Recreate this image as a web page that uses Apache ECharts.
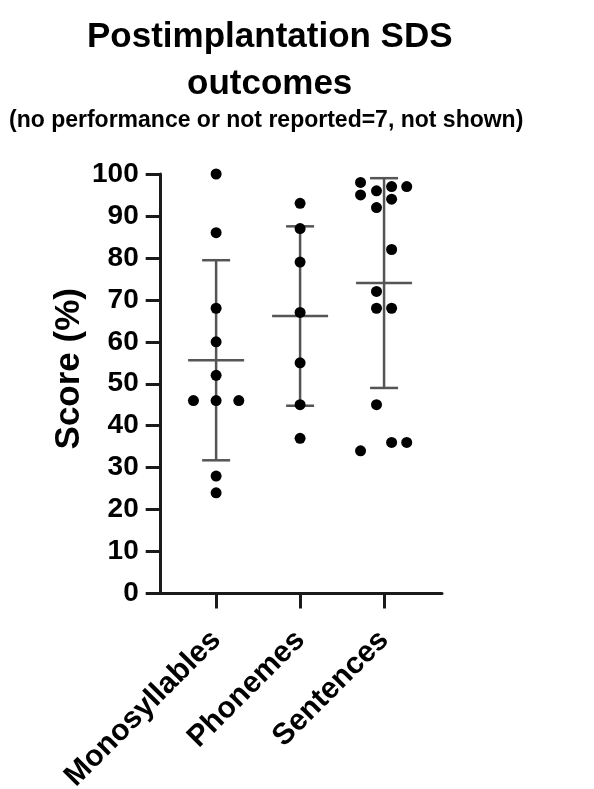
<!DOCTYPE html>
<html>
<head>
<meta charset="utf-8">
<script src="https://cdn.jsdelivr.net/npm/echarts@6/dist/echarts.min.js"></script>
<style>
html,body{margin:0;padding:0;background:#fff;}
#c{width:594px;height:789px;}
</style>
</head>
<body>
<div id="c"></div>
<script>
// Categories and their positions on the value x-axis
const categories = ['Monosyllables', 'Phonemes', 'Sentences'];
const categoryPos = [1, 2, 3];

// Scores (%)
const monosyllables = [100, 86, 68, 60, 52, 46, 46, 46, 28, 24];
const phonemes = [93, 87, 79, 67, 55, 45, 37];
const sentences = [98, 97, 97, 96, 95, 94, 92, 82, 72, 68, 68, 45, 34, 36, 36];

// Horizontal scatter (jitter) offsets of each point, in category units
const monoJitter = [0, 0, 0, 0, 0, -0.27, 0, 0.27, 0, 0];
const phonJitter = [0, 0, 0, 0, 0, 0, 0];
const sentJitter = [-0.28, 0.27, 0.09, -0.09, -0.28, 0.09, -0.09, 0.09, -0.09, -0.09, 0.09, -0.09, -0.28, 0.09, 0.27];

// Y axis ticks
const yTicks = [0, 10, 20, 30, 40, 50, 60, 70, 80, 90, 100];

const groups = [monosyllables, phonemes, sentences];
const jitters = [monoJitter, phonJitter, sentJitter];

function mean(a) { return a.reduce((s, v) => s + v, 0) / a.length; }
function sd(a) { const m = mean(a); return Math.sqrt(a.reduce((s, v) => s + (v - m) * (v - m), 0) / (a.length - 1)); }

const pointData = [];
groups.forEach((g, i) => g.forEach((v, j) => pointData.push([categoryPos[i] + jitters[i][j], v])));
const statData = groups.map((g, i) => [categoryPos[i], mean(g), sd(g)]);

const FONT = 'Liberation Sans, Arial, sans-serif';
const chart = echarts.init(document.getElementById('c'), null, { renderer: 'canvas' });
chart.setOption({
  animation: false,
  backgroundColor: '#fff',
  title: [
    {
      text: 'Postimplantation SDS',
      left: 82, top: 15,
      textStyle: { fontFamily: FONT, fontWeight: 'bold', fontSize: 35, color: '#000' }
    },
    {
      text: 'outcomes',
      left: 182, top: 62,
      textStyle: { fontFamily: FONT, fontWeight: 'bold', fontSize: 35, color: '#000' }
    },
    {
      text: '(no performance or not reported=7, not shown)',
      left: 4, top: 104,
      textStyle: { fontFamily: FONT, fontWeight: 'bold', fontSize: 23, color: '#000' }
    }
  ],
  grid: { left: 160.7, right: 152, top: 174, bottom: 195.5, containLabel: false, outerBoundsMode: 'none' },
  xAxis: {
    type: 'value', min: 0.34, max: 3.69,
    splitLine: { show: false },
    axisLine: { show: true, onZero: false, lineStyle: { color: '#1a1a1a', width: 3 } },
    axisTick: { show: true, customValues: categoryPos, length: 15, lineStyle: { color: '#1a1a1a', width: 3 } },
    axisLabel: {
      customValues: categoryPos,
      formatter: v => categories[categoryPos.indexOf(Math.round(v))] || '',
      rotate: 45, margin: 42,
      fontFamily: FONT, fontWeight: 'bold', fontSize: 30, color: '#000'
    }
  },
  yAxis: {
    type: 'value', min: 0, max: 100, interval: 10,
    name: 'Score (%)', nameLocation: 'middle', nameGap: 74, nameRotate: 90,
    nameTextStyle: { fontFamily: FONT, fontWeight: 'bold', fontSize: 35, color: '#000', padding: [0, 0, 0, 30] },
    splitLine: { show: false },
    axisLine: { show: true, lineStyle: { color: '#1a1a1a', width: 3 } },
    axisTick: { show: true, length: 15, lineStyle: { color: '#1a1a1a', width: 3 } },
    axisLabel: {
      margin: 22,
      formatter: v => (yTicks.indexOf(v) >= 0 ? String(v) : ''),
      fontFamily: FONT, fontWeight: 'bold', fontSize: 28, color: '#000'
    }
  },
  series: [
    {
      type: 'custom',
      z: 2,
      data: statData,
      renderItem: function (params, api) {
        const x = api.value(0), m = api.value(1), s = api.value(2);
        const pm = api.coord([x, m]);
        const pu = api.coord([x, m + s]);
        const pl = api.coord([x, m - s]);
        const style = { stroke: '#555', lineWidth: 2.5 };
        return {
          type: 'group',
          children: [
            { type: 'line', shape: { x1: pu[0], y1: pu[1], x2: pl[0], y2: pl[1] }, style },
            { type: 'line', shape: { x1: pu[0] - 14, y1: pu[1], x2: pu[0] + 14, y2: pu[1] }, style },
            { type: 'line', shape: { x1: pl[0] - 14, y1: pl[1], x2: pl[0] + 14, y2: pl[1] }, style },
            { type: 'line', shape: { x1: pm[0] - 28, y1: pm[1], x2: pm[0] + 28, y2: pm[1] }, style }
          ]
        };
      }
    },
    {
      type: 'scatter',
      z: 3,
      symbol: 'circle',
      symbolSize: 11,
      itemStyle: { color: '#000', opacity: 1 },
      data: pointData
    }
  ]
});
</script>
</body>
</html>
